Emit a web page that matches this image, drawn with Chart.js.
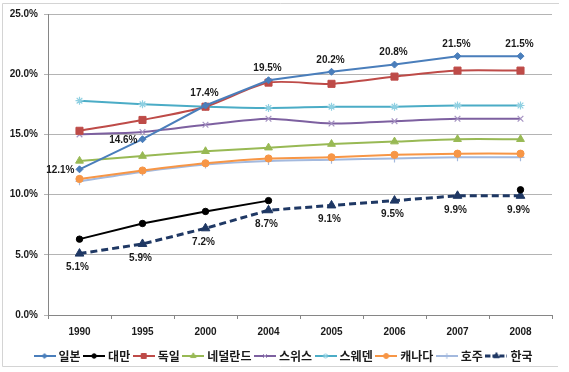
<!DOCTYPE html>
<html>
<head>
<meta charset="utf-8">
<script src="https://cdn.jsdelivr.net/npm/chart.js@4.4.1/dist/chart.umd.min.js"></script>
<style>
html, body { margin: 0; padding: 0; background: #fff; }
#wrap { width: 569px; height: 372px; }
</style>
</head>
<body>
<div id="wrap"><canvas id="chart"></canvas></div>
<script>
// values (percent)
const years = ['1990', '1995', '2000', '2004', '2005', '2006', '2007', '2008'];
const japan = [12.1, 14.6, 17.4, 19.5, 20.2, 20.8, 21.5, 21.5];
const taiwan = [6.3, 7.6, 8.6, 9.5, null, null, null, 10.4];
const germany = [15.3, 16.2, 17.3, 19.3, 19.2, 19.8, 20.3, 20.3];
const netherlands = [12.8, 13.2, 13.6, 13.9, 14.2, 14.4, 14.6, 14.6];
const switzerland = [15.0, 15.2, 15.8, 16.3, 15.9, 16.1, 16.3, 16.3];
const sweden = [17.8, 17.5, 17.3, 17.2, 17.3, 17.3, 17.4, 17.4];
const canada = [11.3, 12.0, 12.6, 13.0, 13.1, 13.3, 13.4, 13.4];
const australia = [11.1, 11.9, 12.5, 12.8, 12.9, 13.0, 13.1, 13.1];
const korea = [5.1, 5.9, 7.2, 8.7, 9.1, 9.5, 9.9, 9.9];
const yTicks = [0, 5, 10, 15, 20, 25];

const japanLabelPos = ['left', 'left', 'top', 'top', 'top', 'top', 'top', 'top'];
const koreaLabelPos = ['bottom', 'bottom', 'bottom', 'bottom', 'bottom', 'bottom', 'bottom', 'bottom'];

const TICK_FONT = { family: '"Liberation Sans", Arial, sans-serif', size: 10, weight: 'bold' };
const TEXT = '#1a1a1a';

function series(label, data, color, style, radius, extra) {
	return Object.assign({
		label, data,
		borderColor: color,
		backgroundColor: color,
		pointBackgroundColor: color,
		pointBorderColor: color,
		borderWidth: 2,
		pointStyle: style,
		pointRadius: radius,
		pointBorderWidth: 1,
		tension: 0.25,
		spanGaps: false
	}, extra || {});
}

const datasets = [
	series('일본', japan, '#4a7ebb', 'rectRot', 3.5, { tension: 0, labelPos: japanLabelPos }),
	series('대만', taiwan, '#000000', 'circle', 3.2, { tension: 0 }),
	series('독일', germany, '#be4b48', 'rect', 5),
	series('네덜란드', netherlands, '#98b954', 'triangle', 4.5),
	series('스위스', switzerland, '#7d60a0', 'crossRot', 4, { pointBorderColor: '#a592c2', pointBorderWidth: 1.2 }),
	series('스웨덴', sweden, '#4bacc6', 'star', 4, { pointBorderColor: '#8fd0e2', pointBorderWidth: 1.2 }),
	series('캐나다', canada, '#f79646', 'circle', 3.6),
	series('호주', australia, '#a3b9de', 'cross', 4, { pointBorderWidth: 1.2 }),
	series('한국', korea, '#1f3864', 'triangle', 5, { tension: 0, borderWidth: 3, borderDash: [7, 4], labelPos: koreaLabelPos })
];

// legend icon: short line with the series marker on it
function legendIcon(ds) {
	const c = document.createElement('canvas');
	c.width = 22; c.height = 10;
	const g = c.getContext('2d');
	g.strokeStyle = ds.borderColor;
	g.lineWidth = ds.borderWidth;
	if (ds.borderDash) g.setLineDash([5, 2]);
	g.beginPath(); g.moveTo(0, 5); g.lineTo(22, 5); g.stroke();
	g.setLineDash([]);
	g.fillStyle = ds.pointBackgroundColor;
	g.strokeStyle = ds.pointBorderColor;
	g.lineWidth = 1;
	if (Chart.helpers && Chart.helpers.drawPoint) {
		Chart.helpers.drawPoint(g, { pointStyle: ds.pointStyle, radius: ds.pointRadius * 0.7, rotation: 0, borderWidth: 1 }, 11, 5);
	}
	return c;
}

const frame = {
	id: 'frame',
	beforeDraw(chart) {
		const ctx = chart.ctx;
		ctx.save();
		ctx.fillStyle = '#fff';
		ctx.fillRect(0, 0, chart.width, chart.height);
		ctx.strokeStyle = '#d4d4d4';
		ctx.lineWidth = 1;
		ctx.beginPath();
		ctx.moveTo(559, 3.5); ctx.lineTo(2.5, 3.5); ctx.lineTo(2.5, 366.5); ctx.lineTo(558, 366.5);
		ctx.stroke();
		ctx.restore();
	}
};

const valueLabels = {
	id: 'valueLabels',
	afterDatasetsDraw(chart) {
		const ctx = chart.ctx;
		ctx.save();
		ctx.font = 'bold 10px "Liberation Sans", Arial, sans-serif';
		ctx.fillStyle = TEXT;
		chart.data.datasets.forEach((ds, i) => {
			if (!ds.labelPos) return;
			chart.getDatasetMeta(i).data.forEach((pt, j) => {
				if (ds.data[j] == null) return;
				const txt = ds.data[j].toFixed(1) + '%';
				const pos = ds.labelPos[j];
				if (pos === 'left') {
					ctx.textAlign = 'right'; ctx.textBaseline = 'middle';
					ctx.fillText(txt, pt.x - 5, pt.y + 1);
				} else if (pos === 'top') {
					ctx.textAlign = 'center'; ctx.textBaseline = 'middle';
					ctx.fillText(txt, pt.x - 1, pt.y - 12);
				} else {
					ctx.textAlign = 'center'; ctx.textBaseline = 'middle';
					ctx.fillText(txt, pt.x - 2, pt.y + 14);
				}
			});
		});
		ctx.restore();
	}
};

new Chart(document.getElementById('chart'), {
	type: 'line',
	data: { labels: years, datasets },
	plugins: [frame, valueLabels],
	options: {
		responsive: true,
		maintainAspectRatio: false,
		animation: false,
		events: [],
		layout: { padding: { top: 14, left: 0, right: 0, bottom: 0 } },
		plugins: {
			tooltip: { enabled: false },
			legend: {
				position: 'bottom',
				labels: {
					usePointStyle: true,
					pointStyleWidth: 16,
					padding: 5.5,
					color: TEXT,
					font: { family: '"Noto Sans CJK KR", sans-serif', size: 12, weight: 'bold' },
					generateLabels: (chart) => chart.data.datasets.map((ds, i) => ({
						text: ds.label,
						pointStyle: legendIcon(ds),
						datasetIndex: i,
						hidden: false,
						lineWidth: 0,
						fontColor: TEXT
					}))
				}
			}
		},
		scales: {
			x: {
				offset: true,
				grid: { display: true, offset: true, drawOnChartArea: false, drawTicks: true, tickLength: 4, color: '#868686' },
				border: { color: '#868686' },
				ticks: { font: TICK_FONT, color: TEXT, padding: 7, maxRotation: 0 },
				afterFit: (s) => { s.height = 29.5; }
			},
			y: {
				min: 0,
				max: 25,
				afterBuildTicks: (s) => { s.ticks = yTicks.map(v => ({ value: v })); },
				ticks: { font: TICK_FONT, color: TEXT, padding: 6, callback: (v) => Number(v).toFixed(1) + '%' },
				grid: { color: '#b4b4b4', tickLength: 4, drawTicks: true },
				border: { color: '#868686' },
				afterFit: (s) => { s.width = 48; }
			},
			// empty axis that only reserves the right margin
			yRight: {
				position: 'right',
				display: true,
				grid: { display: false, drawTicks: false },
				border: { display: false },
				ticks: { display: false },
				afterFit: (s) => { s.width = 17; }
			}
		}
	}
});
</script>
</body>
</html>
